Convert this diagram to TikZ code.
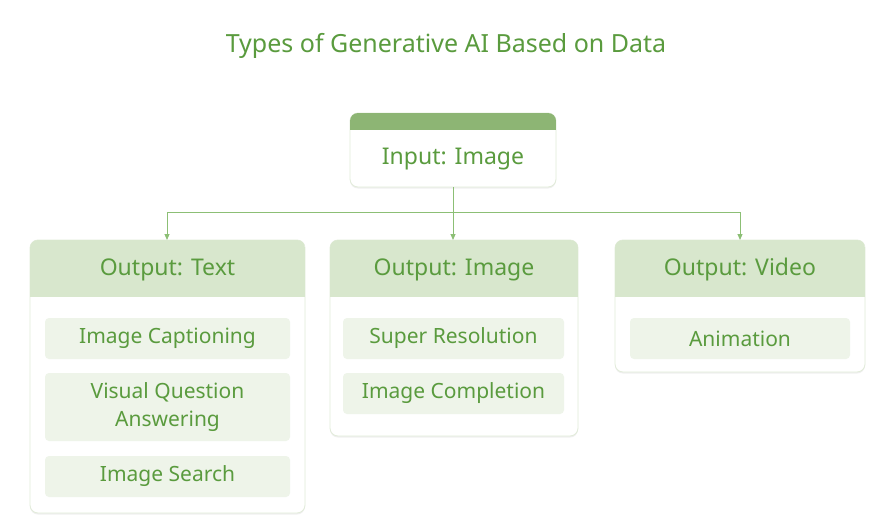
\documentclass[tikz,border=0pt]{standalone}
\usepackage{fontspec}
\setmainfont{Noto Sans}
\usetikzlibrary{arrows.meta,shadows}
\definecolor{txtgreen}{HTML}{5A9B3E}
\definecolor{band}{HTML}{8DB574}
\definecolor{hdr}{HTML}{D8E7CD}
\definecolor{item}{HTML}{EEF4E9}
\definecolor{edge}{HTML}{E2ECDA}
\definecolor{conn}{HTML}{8CBF75}
\tikzset{
  panel/.style={draw=edge, line width=0.8pt, fill=white, rounded corners=8pt, drop shadow={opacity=0.12, shadow xshift=0pt, shadow yshift=-1.5pt}},
  hdrtext/.style={text=txtgreen, font=\fontsize{23}{27}\selectfont},
  itembox/.style={fill=item, rounded corners=4pt, text=txtgreen, font=\fontsize{21}{28}\selectfont, align=center, inner sep=0pt},
  conn/.style={draw=conn, line width=1pt, -{Triangle[length=6pt,width=5pt]}},
}
\begin{document}
\begin{tikzpicture}[x=1pt,y=-1pt]
\useasboundingbox (0,0) rectangle (870,516);
\fill[white] (0,0) rectangle (870,516);
% title
\node[text=txtgreen, font=\fontsize{25}{30}\selectfont] (title) at (446,46) {Types of Generative AI Based on Data};
% input box
\draw[panel] (350,113) rectangle (556,187);
\begin{scope}
\clip[rounded corners=8pt] (350,113) rectangle (556,187);
\fill[band] (350,113) rectangle (556,130);
\end{scope}
\node[minimum width=206pt, minimum height=74pt, inner sep=0pt] (in) at (453,150) {};
\node[hdrtext] (intext) at (453,159) {Input: Image};
% output panels
\draw[panel] (30,240) rectangle (305,513);
\draw[panel] (330,240) rectangle (578,436);
\draw[panel] (615,240) rectangle (865,372);
\begin{scope}
\clip[rounded corners=8pt] (30,240) rectangle (305,513);
\fill[hdr] (30,240) rectangle (305,297);
\end{scope}
\begin{scope}
\clip[rounded corners=8pt] (330,240) rectangle (578,436);
\fill[hdr] (330,240) rectangle (578,297);
\end{scope}
\begin{scope}
\clip[rounded corners=8pt] (615,240) rectangle (865,372);
\fill[hdr] (615,240) rectangle (865,297);
\end{scope}
\node[hdrtext] (o1) at (167.5,270) {Output: Text};
\node[hdrtext] (o2) at (454,270) {Output: Image};
\node[hdrtext] (o3) at (740,270) {Output: Video};
\coordinate (o1top) at (167,240);
\coordinate (o2top) at (453,240);
\coordinate (o3top) at (740,240);
% items
\node[itembox, minimum width=245pt, minimum height=41pt] (i1) at (167.5,338.5) {Image Captioning};
\node[itembox, minimum width=245pt, minimum height=68pt] (i2) at (167.5,407) {Visual Question\\Answering};
\node[itembox, minimum width=245pt, minimum height=41pt] (i3) at (167.5,476.5) {Image Search};
\node[itembox, minimum width=221pt, minimum height=41pt] (i4) at (453.5,338.5) {Super Resolution};
\node[itembox, minimum width=221pt, minimum height=41pt] (i5) at (453.5,393.5) {Image Completion};
\node[itembox, minimum width=220pt, minimum height=41pt] (i6) at (740,338.5) {Animation};
% connectors
\coordinate (j) at (453,212);
\coordinate (jl) at (167,212);
\coordinate (jr) at (740,212);
\draw[draw=conn, line width=1pt] (in.south) -- (j);
\draw[draw=conn, line width=1pt] (jl) -- (jr);
\draw[conn] (jl) -- (o1top);
\draw[conn] (j) -- (o2top);
\draw[conn] (jr) -- (o3top);
\end{tikzpicture}
\end{document}
